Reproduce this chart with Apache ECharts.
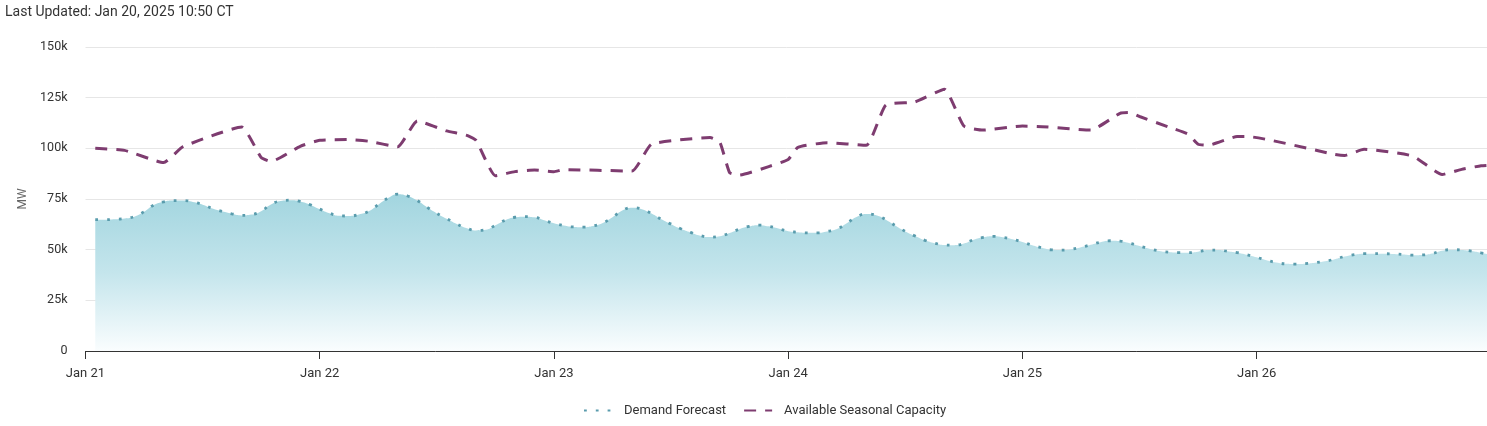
<!DOCTYPE html>
<html><head><meta charset="utf-8">
<script src="https://cdn.jsdelivr.net/npm/echarts@6/dist/echarts.min.js"></script>
<style>html,body{margin:0;padding:0;background:#fff}#c{width:1487px;height:426px}</style>
</head><body><div id="c"></div>
<script>
// Hours since Jan 21 00:00 (CT); values in thousands of MW
const dayLabels = ['Jan 21','Jan 22','Jan 23','Jan 24','Jan 25','Jan 26'];
const yTicks = [0,25,50,75,100,125,150];
const demandStartHour = 1;
const demandForecast = [
 64.8,64.8,65.0,65.4,66.3,68.7,72.0,73.6,74.2,74.2,73.5,72.2,70.3,68.9,67.7,66.9,67.3,69.0,72.3,74.0,74.4,73.8,72.2,70.0,
 68.0,66.7,66.6,67.3,68.9,72.2,75.5,77.4,76.5,74.2,70.9,67.9,65.3,62.8,60.7,59.5,59.8,62.0,64.5,66.0,66.3,66.0,64.5,63.0,
 61.9,61.2,61.1,61.7,63.2,66.0,69.3,70.7,70.0,67.8,65.0,62.6,60.3,58.5,56.9,56.2,56.6,58.2,60.1,61.5,62.1,61.5,60.4,59.1,
 58.6,58.3,58.3,59.0,60.2,63.0,66.1,67.6,67.0,64.8,61.8,59.0,56.7,54.6,53.2,52.3,52.2,53.0,54.9,56.1,56.6,56.1,55.1,53.8,
 52.2,50.9,49.9,49.8,50.2,51.2,52.4,53.7,54.4,54.2,53.2,51.8,50.5,49.4,48.8,48.5,48.5,49.0,49.8,49.8,49.2,48.5,47.5,46.2,
 44.8,43.7,43.0,42.9,43.1,43.6,44.3,45.3,46.6,47.5,48.0,48.0,48.0,47.9,47.6,47.3,47.4,48.1,49.5,50.0,49.8,49.3,48.4,47.5
];
const capacityHours = [1,4,8,10,16,18,19,22,24,27,29,32,34,37,39,40,42,44,46,48,49,56,58,64,65,66,67,70,72,73,76,80,82,85,88,90,92,96,98,103,106,107,108,111,113,114,115,118,119,128,129,131,136,139,141,143,144];
const capacityValues = [100,99,93,100.8,110.5,95.5,93.5,101,104,104.3,103.5,100.8,113.5,108.6,106.5,104,86.5,88.5,89.3,88.5,89.5,88.8,102,105.3,103,88,86.8,91,94.5,100.5,102.8,101.5,121.3,122.9,129.2,111,109,111,110.7,109,117.3,117.7,115.7,110.5,106.9,102,101.5,105.8,105.8,97,96.5,99.5,96.2,87.1,89.6,91.4,91.7];

const demandData = demandForecast.map((v,i)=>[demandStartHour+i, v]);
const capacityData = capacityHours.map((h,i)=>[h, capacityValues[i]]);

const FONT = 'Roboto, "Liberation Sans", Arial, sans-serif';
const chart = echarts.init(document.getElementById('c'), null, {renderer:'canvas'});
chart.setOption({
  animation:false,
  textStyle:{fontFamily:FONT},
  title:{text:'Last Updated: Jan 20, 2025 10:50 CT', left:0, top:0,
    textStyle:{fontSize:14, fontWeight:'normal', color:'#333', fontFamily:FONT}},
  grid:{left:85.5, right:0, top:47, bottom:75, containLabel:false},
  legend:{left:578, top:399, itemWidth:28, itemHeight:10, itemGap:17,
    itemStyle:{color:'transparent', borderWidth:0, opacity:0},
    textStyle:{fontSize:13, color:'#333', fontFamily:FONT, padding:[0,0,0,7]},
    data:['Demand Forecast','Available Seasonal Capacity']},
  xAxis:{type:'value', min:0, max:143.6, interval:24,
    axisLine:{show:true, lineStyle:{color:'#333', width:1}},
    axisTick:{show:true, length:8, lineStyle:{color:'#333'}},
    splitLine:{show:false},
    axisLabel:{margin:16, fontSize:13, color:'#333', fontFamily:FONT, showMaxLabel:false,
      formatter:v=>dayLabels[Math.round(v/24)] || ''}},
  yAxis:{type:'value', min:yTicks[0], max:yTicks[yTicks.length-1], interval:25,
    name:'MW', nameLocation:'middle', nameRotate:90, nameGap:54,
    nameTextStyle:{fontSize:12, color:'#666', fontFamily:FONT},
    axisLine:{show:false}, axisTick:{show:false},
    splitLine:{lineStyle:{color:'#e6e6e6', width:1}},
    axisLabel:{margin:18, fontSize:12.5, color:'#333', fontFamily:FONT,
      formatter:v=> v===0 ? '0' : v+'k'}},
  series:[
    {name:'Demand Forecast', type:'line', data:demandData, smooth:true, symbol:'none',
      lineStyle:{color:'#5a9cad', width:2.8, type:[2.8,9], cap:'butt'},
      itemStyle:{color:'#5a9cad'},
      areaStyle:{origin:'start', opacity:1, color:new echarts.graphic.LinearGradient(0,0,0,1,[
        {offset:0,color:'#a2d5df'},{offset:0.5,color:'#c4e5ec'},{offset:1,color:'#fafdfe'}])},
      z:2},
    {name:'Available Seasonal Capacity', type:'line', data:capacityData, smooth:0.15, symbol:'none',
      lineStyle:{color:'#7e3c70', width:3, type:[12,9], cap:'butt'},
      itemStyle:{color:'#7e3c70'}, z:3}
  ]
});
</script></body></html>
